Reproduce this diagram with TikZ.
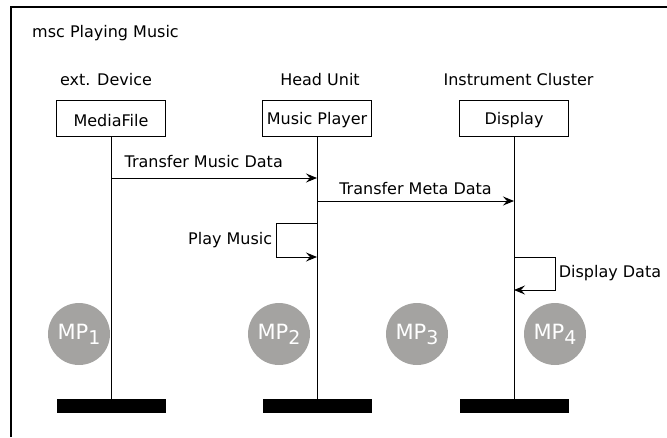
\documentclass[tikz,border=0pt]{standalone}
\usepackage{fontspec}
\setmainfont{DejaVu Sans}
\usetikzlibrary{arrows.meta,positioning}
\definecolor{mpgray}{HTML}{A4A3A1}
\newcommand{\mpsub}[1]{MP\raisebox{-5pt}{\fontsize{19}{19}\selectfont #1}}

\begin{document}
\begin{tikzpicture}[
  x=1pt, y=-1pt,
  every node/.style={font=\fontsize{16}{18}\selectfont},
  instance/.style={draw, line width=1pt, minimum width=109pt, minimum height=36pt, inner sep=0pt, text height=17pt},
  endbar/.style={fill=black, minimum width=109pt, minimum height=14pt, inner sep=0pt},
  lifeline/.style={line width=1pt},
  msg/.style={line width=1pt, -{Stealth[length=11pt, width=9pt, inset=4pt]}},
  mpoint/.style={circle, fill=mpgray, minimum size=62pt, inner sep=0pt, text=white, font=\fontsize{21}{21}\selectfont}
]
  \useasboundingbox (0,0) rectangle (667,437);
  % Frame
  \draw[line width=1.3pt] (11,437) |- (667,7);
  \node[anchor=base west] (title) at (28.7,37.5) {msc Playing Music};

  % Instances
  \node[instance] (media)   at (111,118) {MediaFile};
  \node[instance] (player)  at (317,118) {Music Player};
  \node[instance] (display) at (514,118) {Display};
  \node[anchor=base] (mediahead)   at (106,85)   {ext. Device};
  \node[anchor=base] (playerhead)  at (320,85)   {Head Unit};
  \node[anchor=base] (displayhead) at (518.5,85) {Instrument Cluster};

  % Instance ends and lifelines
  \node[endbar] (mediaend)   at (111,406) {};
  \node[endbar] (playerend)  at (317,406) {};
  \node[endbar] (displayend) at (514,406) {};
  \draw[lifeline] (media) -- (mediaend);
  \draw[lifeline] (player) -- (playerend);
  \draw[lifeline] (display) -- (displayend);

  % Messages
  \coordinate (tmd1) at (111,178);
  \coordinate (tmd2) at (317,178);
  \coordinate (tmeta1) at (317,201);
  \coordinate (tmeta2) at (514,201);
  \coordinate (play1) at (317,223);
  \coordinate (play2) at (317,257);
  \coordinate (show1) at (514,257);
  \coordinate (show2) at (514,290);
  \draw[msg] (tmd1) -- node[above=6pt, pos=0.45] {Transfer Music Data} (tmd2);
  \draw[msg] (tmeta1) -- node[above=2.5pt] {Transfer Meta Data} (tmeta2);
  \draw[msg] (play1) -- ++(-41,0) |- node[pos=0.25, left] {Play Music} (play2);
  \draw[msg] (show1) -- ++(41,0) |- node[pos=0.25, right] {Display Data} (show2);

  % Measuring points
  \node[mpoint] (mp1) at (79,334)  {\mpsub{1}};
  \node[mpoint] (mp2) at (279,334) {\mpsub{2}};
  \node[mpoint] (mp3) at (417,334) {\mpsub{3}};
  \node[mpoint] (mp4) at (555,334) {\mpsub{4}};

\end{tikzpicture}
\end{document}
